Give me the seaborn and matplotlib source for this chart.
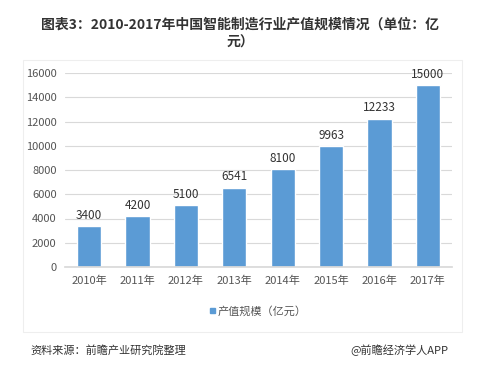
import matplotlib
matplotlib.use("Agg")
import matplotlib.pyplot as plt
import seaborn as sns
import pandas as pd

years = ["2010年", "2011年", "2012年", "2013年", "2014年", "2015年", "2016年", "2017年"]
values = [3400, 4200, 5100, 6541, 8100, 9963, 12233, 15000]
yticks = [0, 2000, 4000, 6000, 8000, 10000, 12000, 14000, 16000]
series_name = "产值规模（亿元）"

sns.set_theme(style="white")
plt.rcParams['font.family'] = ['Noto Sans CJK SC', 'DejaVu Sans']

df = pd.DataFrame({"year": years, "value": values})

W, H = 480, 374
fig = plt.figure(figsize=(W / 100, H / 100), dpi=100)
ax = fig.add_axes([65 / W, 1 - 267 / H, (452 - 65) / W, (267 - 73) / H])

color = "#5B9BD5"
sns.barplot(data=df, x="year", y="value", color=color, width=0.5, ax=ax, saturation=1)

ax.set_ylim(0, 16000)
ax.set_yticks(yticks)
ax.set_yticklabels([str(t) for t in yticks], fontsize=8, color="#555555")
ax.tick_params(axis="x", labelsize=8, colors="#555555", length=0, pad=6)
ax.tick_params(axis="y", length=0, pad=6)
ax.yaxis.grid(True, color="#d9d9d9", linewidth=0.8)
ax.set_axisbelow(True)
for s in ["top", "right", "left"]:
    ax.spines[s].set_visible(False)
ax.spines["bottom"].set_color("#d9d9d9")
ax.set_xlabel("")
ax.set_ylabel("")

for i, v in enumerate(values):
    ax.text(i, v + 350, str(v), ha="center", va="bottom", fontsize=8.5, color="#333333")

fig.text(0.5, 1 - 25 / H, "图表3：2010-2017年中国智能制造行业产值规模情况（单位：亿",
         ha="center", va="center", fontsize=10, fontweight="bold", color="#333333")
fig.text(0.5, 1 - 43 / H, "元）", ha="center", va="center", fontsize=10,
         fontweight="bold", color="#333333")

# legend
fig.patches.append(matplotlib.patches.Rectangle((210 / W, 1 - 313 / H), 5 / W, 5 / H,
                                                 transform=fig.transFigure, color=color))
fig.text(218 / W, 1 - 311 / H, series_name, ha="left", va="center", fontsize=8, color="#555555")

# frame around chart area
fig.patches.append(matplotlib.patches.Rectangle((23 / W, 1 - 332 / H), (462 - 23) / W, (332 - 60) / H,
                                                 transform=fig.transFigure, fill=False,
                                                 edgecolor="#eeeeee", linewidth=0.8))

fig.text(30 / W, 1 - 350 / H, "资料来源：前瞻产业研究院整理", ha="left", va="center",
         fontsize=8, style="italic", color="#333333")
fig.text(350 / W, 1 - 350 / H, "@前瞻经济学人APP", ha="left", va="center",
         fontsize=8, color="#333333")

fig.savefig("out.png", dpi=100)
